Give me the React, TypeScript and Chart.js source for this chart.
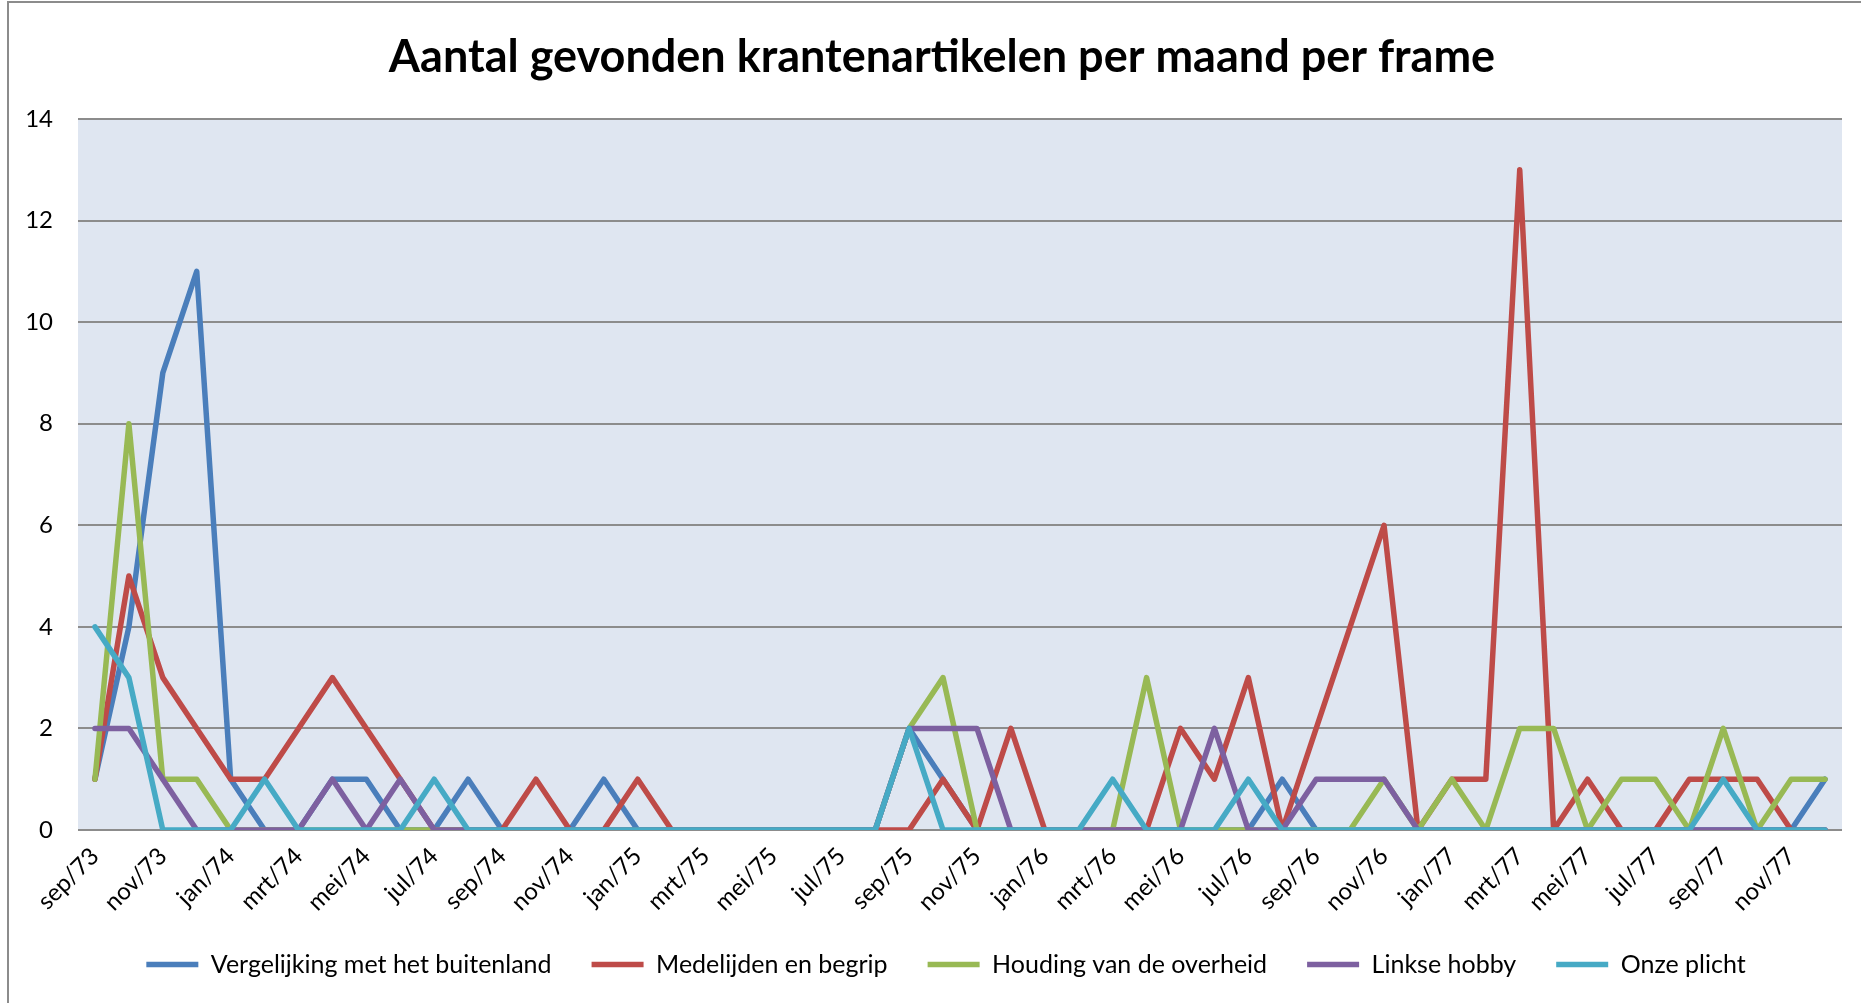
import React, { useEffect, useRef } from 'react';
import { Chart, registerables } from 'chart.js';

Chart.register(...registerables);

const TITLE = 'Aantal gevonden krantenartikelen per maand per frame';

const months = [
  'sep/73', 'okt/73', 'nov/73', 'dec/73',
  'jan/74', 'feb/74', 'mrt/74', 'apr/74', 'mei/74', 'jun/74', 'jul/74', 'aug/74', 'sep/74', 'okt/74', 'nov/74', 'dec/74',
  'jan/75', 'feb/75', 'mrt/75', 'apr/75', 'mei/75', 'jun/75', 'jul/75', 'aug/75', 'sep/75', 'okt/75', 'nov/75', 'dec/75',
  'jan/76', 'feb/76', 'mrt/76', 'apr/76', 'mei/76', 'jun/76', 'jul/76', 'aug/76', 'sep/76', 'okt/76', 'nov/76', 'dec/76',
  'jan/77', 'feb/77', 'mrt/77', 'apr/77', 'mei/77', 'jun/77', 'jul/77', 'aug/77', 'sep/77', 'okt/77', 'nov/77', 'dec/77',
];

const vergelijking = [
  1, 4, 9, 11, 1, 0, 0, 1, 1, 0,
  0, 1, 0, 0, 0, 1, 0, 0, 0, 0,
  0, 0, 0, 0, 2, 1, 0, 0, 0, 0,
  0, 0, 0, 0, 0, 1, 0, 0, 0, 0,
  0, 0, 0, 0, 0, 0, 0, 0, 0, 0,
  0, 1,
];

const medelijden = [
  1, 5, 3, 2, 1, 1, 2, 3, 2, 1,
  0, 0, 0, 1, 0, 0, 1, 0, 0, 0,
  0, 0, 0, 0, 0, 1, 0, 2, 0, 0,
  0, 0, 2, 1, 3, 0, 2, 4, 6, 0,
  1, 1, 13, 0, 1, 0, 0, 1, 1, 1,
  0, 0,
];

const houding = [
  1, 8, 1, 1, 0, 0, 0, 0, 0, 0,
  0, 0, 0, 0, 0, 0, 0, 0, 0, 0,
  0, 0, 0, 0, 2, 3, 0, 0, 0, 0,
  0, 3, 0, 0, 0, 0, 0, 0, 1, 0,
  1, 0, 2, 2, 0, 1, 1, 0, 2, 0,
  1, 1,
];

const linkse = [
  2, 2, 1, 0, 0, 0, 0, 1, 0, 1,
  0, 0, 0, 0, 0, 0, 0, 0, 0, 0,
  0, 0, 0, 0, 2, 2, 2, 0, 0, 0,
  0, 0, 0, 2, 0, 0, 1, 1, 1, 0,
  0, 0, 0, 0, 0, 0, 0, 0, 0, 0,
  0, 0,
];

const plicht = [
  4, 3, 0, 0, 0, 1, 0, 0, 0, 0,
  1, 0, 0, 0, 0, 0, 0, 0, 0, 0,
  0, 0, 0, 0, 2, 0, 0, 0, 0, 0,
  1, 0, 0, 0, 1, 0, 0, 0, 0, 0,
  0, 0, 0, 0, 0, 0, 0, 0, 1, 0,
  0, 0,
];

const seriesNames = [
  'Vergelijking met het buitenland',
  'Medelijden en begrip',
  'Houding van de overheid',
  'Linkse hobby',
  'Onze plicht',
];
const seriesColors = ['#4A7EBB', '#BE4B48', '#98B954', '#7D60A0', '#46AAC5'];
const seriesData = [vergelijking, medelijden, houding, linkse, plicht];

const FONT = 'Lato, "Open Sans", sans-serif';

const plotBg = {
  id: 'plotBg',
  beforeDraw(chart: any) {
    const { ctx, chartArea: a } = chart;
    ctx.save();
    ctx.fillStyle = '#DFE6F1';
    ctx.fillRect(a.left, a.top, a.right - a.left, a.bottom - a.top);
    ctx.restore();
  },
};

// nudges title / legend boxes after layout so they sit where the reference has them
const boxNudge = {
  id: 'boxNudge',
  afterLayout(chart: any) {
    const t = chart.titleBlock;
    if (t) {
      t.left += 42;
    }
    const l = chart.legend;
    if (l) {
      l.top -= 18;
      l.bottom = l.top + 97;
      l.left += 25;
      l.right += 25;
    }
  },
};

export default function App() {
  const ref = useRef<HTMLCanvasElement | null>(null);

  useEffect(() => {
    if (!ref.current) return;
    const n = seriesData.length;
    const chart = new Chart(ref.current, {
      type: 'line',
      data: {
        labels: months,
        datasets: seriesData.map((d, i) => ({
          label: seriesNames[i],
          data: d,
          borderColor: seriesColors[i],
          backgroundColor: seriesColors[i],
          borderWidth: 5.5,
          pointRadius: 0,
          tension: 0,
          fill: false,
          borderCapStyle: 'round',
          borderJoinStyle: 'round',
          order: n - i,
        })),
      },
      options: {
        responsive: false,
        animation: false,
        layout: { padding: { left: 0, right: 19, top: 0, bottom: 16 } },
        plugins: {
          title: {
            display: true,
            text: TITLE,
            color: '#000',
            font: { family: FONT, size: 45, weight: 'bold' },
            padding: { top: 30, bottom: 35 },
          },
          legend: {
            position: 'bottom',
            maxHeight: 57,
            labels: {
              usePointStyle: true,
              pointStyle: 'line',
              pointStyleWidth: 52,
              color: '#000',
              font: { family: FONT, size: 25 },
              padding: 40,
              sort: (a: any, b: any) => a.datasetIndex - b.datasetIndex,
            },
          },
          tooltip: { enabled: false },
        },
        scales: {
          x: {
            offset: true,
            grid: { display: false, drawTicks: false },
            border: { display: false },
            ticks: {
              autoSkip: false,
              maxRotation: 45,
              minRotation: 45,
              color: '#000',
              font: { family: FONT, size: 24 },
              padding: 12,
              callback: (_v: any, i: number) => (i % 2 === 0 ? months[i] : ''),
            },
            afterFit: (s: any) => {
              s.height = 100;
            },
          },
          y: {
            min: 0,
            max: 14,
            ticks: {
              stepSize: 2,
              color: '#000',
              font: { family: FONT, size: 24 },
              padding: 25,
            },
            grid: { color: '#8c8c8c', lineWidth: 2, drawTicks: false },
            border: { display: false },
            afterFit: (s: any) => {
              s.width = 78;
            },
          },
        },
      },
      plugins: [plotBg, boxNudge],
    } as any);
    return () => chart.destroy();
  }, []);

  return (
    <div style={{ position: 'absolute', left: 0, top: 0, width: 1861, height: 1003, background: '#fff' }}>
      <canvas ref={ref} width={1861} height={1003} style={{ position: 'absolute', left: 0, top: 0, width: 1861, height: 1003 }} />
      <div
        style={{
          position: 'absolute',
          left: 7,
          top: 1,
          width: 1854,
          height: 1002,
          borderLeft: '2px solid #8c8c8c',
          borderTop: '2px solid #8c8c8c',
          boxSizing: 'border-box',
          pointerEvents: 'none',
        }}
      />
    </div>
  );
}
